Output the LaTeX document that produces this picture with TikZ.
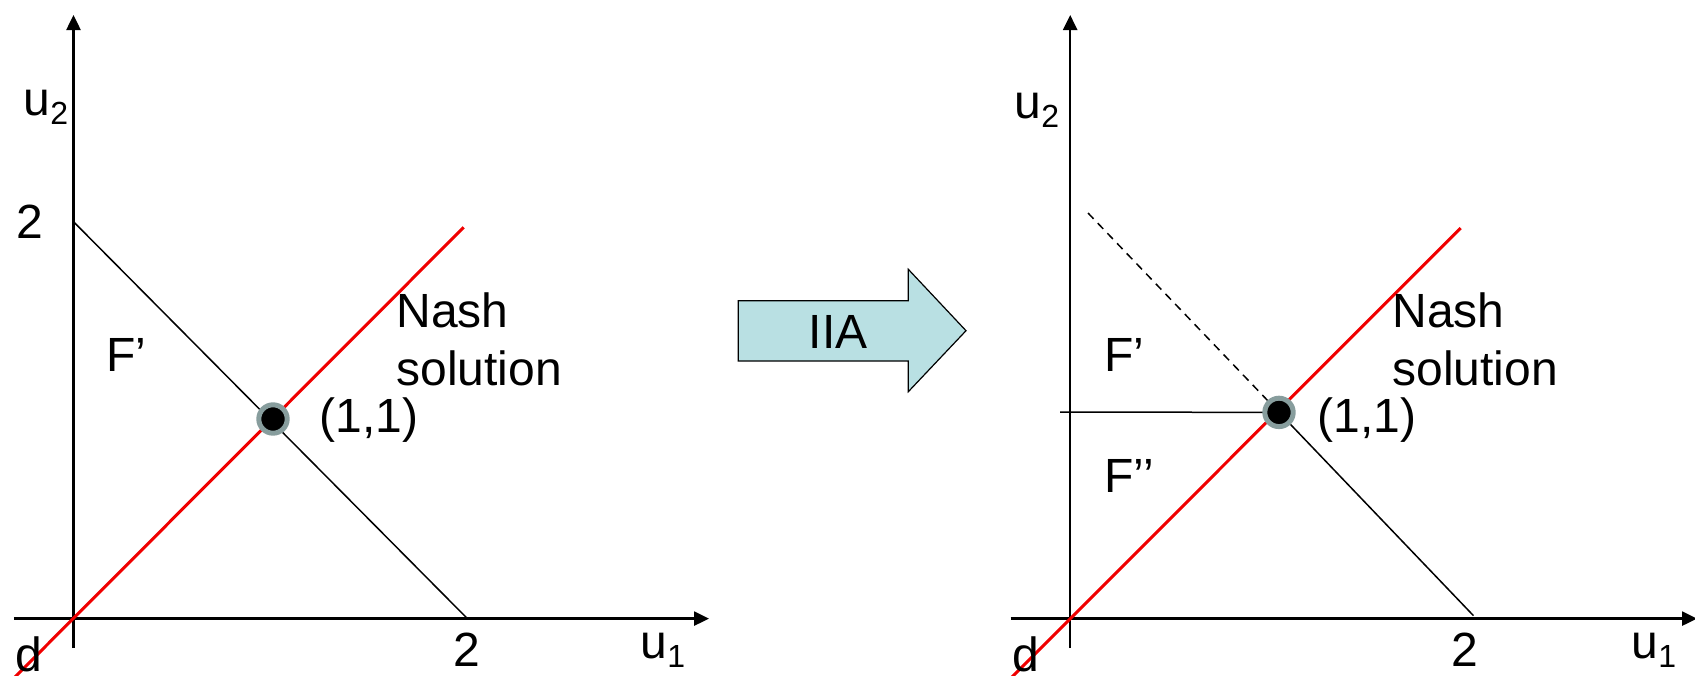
\documentclass[tikz,border=0pt]{standalone}
\usepackage{fontspec}
\setmainfont{Liberation Sans}
\usetikzlibrary{arrows.meta}
\definecolor{arrowfill}{RGB}{185,224,227}
\definecolor{ringgray}{RGB}{135,157,157}
\definecolor{nashred}{RGB}{240,0,0}
\newcommand{\subn}[1]{\raisebox{-0.35ex}{\fontsize{16}{16}\selectfont #1}}
\begin{document}
\begin{tikzpicture}[x=0.5pt,y=-0.5pt,
  font=\fontsize{24}{29}\selectfont,
  axisline/.style={line width=1.25pt,-{Triangle[length=7.5pt,width=7pt]}},
  plainaxis/.style={line width=1.25pt},
  frontier/.style={line width=0.75pt},
  dashfrontier/.style={line width=0.75pt,dash pattern=on 4pt off 3pt},
  nashline/.style={line width=1.5pt,draw=nashred},
  lbl/.style={inner sep=0pt},
  dot/.style={circle,fill=black,draw=ringgray,line width=2.5pt,minimum size=14.2pt,inner sep=0pt},
  bigarrow/.style={fill=arrowfill,draw=black,line width=0.6pt}]
\useasboundingbox (0,0) rectangle (1695,675);
\clip (0,0) rectangle (1695,675);
% ---------- left panel ----------
\coordinate (O1) at (73.5,618.6);
\coordinate (Y1t) at (73.5,15);
\coordinate (Y1b) at (73.5,648);
\coordinate (X1l) at (13.8,618.6);
\coordinate (X1t) at (709,618.6);
\coordinate (A1) at (73.5,221.7);
\coordinate (B1) at (467.4,618.6);
\coordinate (R1t) at (463.7,227.3);
\coordinate (R1b) at (-20,712);
\draw[plainaxis] (Y1b) -- (O1);
\draw[axisline] (O1) -- (Y1t);
\draw[plainaxis] (X1l) -- (O1);
\draw[axisline] (O1) -- (X1t);
\draw[frontier] (A1) -- (B1);
\draw[nashline] (R1b) -- (R1t);
\node[dot] (P1) at (273,419) {};
\node[lbl] (u2a) at (46,107.6) {u\subn{2}};
\node[lbl] (two1y) at (30,221.7) {2};
\node[lbl] (Fa) at (126,355) {F’};
\node[lbl,anchor=west,align=left] (nash1) at (396,339) {Nash\\solution};
\node[lbl,anchor=west] (pt1) at (319,420) {(1,1)};
\node[lbl] (two1x) at (467,650) {2};
\node[lbl] (u1a) at (663,650) {u\subn{1}};
\node[lbl] (d1) at (28.5,654) {d};
% ---------- IIA arrow ----------
\draw[bigarrow] (738.3,300.7) -- (908.3,300.7) -- (908.3,269.3) -- (966,330.7)
  -- (908.3,391.7) -- (908.3,361) -- (738.3,361) -- cycle;
\node[lbl] (iia) at (838,331.7) {IIA};
% ---------- right panel ----------
\coordinate (O2) at (1070.2,618.6);
\coordinate (Y2t) at (1070.2,15);
\coordinate (Y2b) at (1070.2,648);
\coordinate (X2l) at (1010.6,618.6);
\coordinate (X2t) at (1697,618.6);
\coordinate (D2) at (1088,213);
\coordinate (E2) at (1473.4,615.6);
\coordinate (H2) at (1060,412);
\coordinate (R2t) at (1460.7,228);
\coordinate (R2b) at (968,721);
\coordinate (P2c) at (1279,412.4);
\draw[plainaxis] (Y2b) -- (O2);
\draw[axisline] (O2) -- (Y2t);
\draw[plainaxis] (X2l) -- (O2);
\draw[axisline] (O2) -- (X2t);
\draw[dashfrontier] (D2) -- (P2c);
\draw[frontier] (P2c) -- (E2);
\draw[frontier] (H2) -- (P2c);
\draw[nashline] (R2b) -- (R2t);
\node[dot] (P2) at (P2c) {};
\node[lbl] (u2b) at (1037,110) {u\subn{2}};
\node[lbl] (Fb) at (1124,355) {F’};
\node[lbl] (Fc) at (1129,476) {F’’};
\node[lbl,anchor=west,align=left] (nash2) at (1392,339) {Nash\\solution};
\node[lbl,anchor=west] (pt2) at (1317,420) {(1,1)};
\node[lbl] (two2x) at (1465,650) {2};
\node[lbl] (u1b) at (1654,650) {u\subn{1}};
\node[lbl] (d2) at (1025.6,654) {d};
\end{tikzpicture}
\end{document}
